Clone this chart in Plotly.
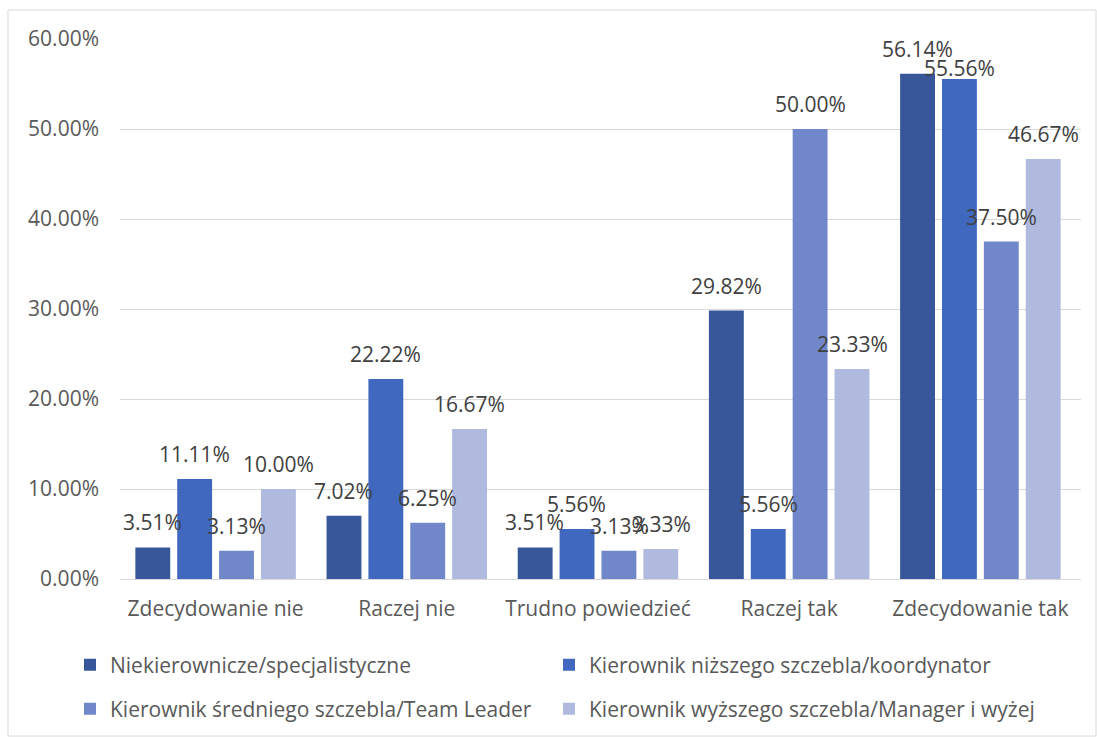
import plotly.graph_objects as go

categories = ["Zdecydowanie nie", "Raczej nie", "Trudno powiedzieć", "Raczej tak", "Zdecydowanie tak"]
series_names = [
    "Niekierownicze/specjalistyczne",
    "Kierownik niższego szczebla/koordynator",
    "Kierownik średniego szczebla/Team Leader",
    "Kierownik wyższego szczebla/Manager i wyżej",
]
s1 = [3.51, 7.02, 3.51, 29.82, 56.14]
s2 = [11.11, 22.22, 5.56, 5.56, 55.56]
s3 = [3.13, 6.25, 3.13, 50.00, 37.50]
s4 = [10.00, 16.67, 3.33, 23.33, 46.67]
colors = ["#37579A", "#4068BF", "#7088CA", "#AFBADE"]
# label that Excel nudged down to avoid colliding with its neighbour
lowered = {(1, 4)}

W, H = 1097, 737
L, R, T, B = 120, 16, 39, 158
PW, PH = W - L - R, H - T - B
FONT = "Open Sans"
BARGAP, GROUPGAP = 0.124, 0.167
NS = 4
slot_px = PW / len(categories) * (1 - BARGAP) / NS

def px_x(p):
    return (p - L) / PW

def px_y(p):
    return (H - B - p) / PH

# legend cell (left pixel, row centre pixel) per series: 2 x 2 grid
legend_ids = ["legend", "legend2", "legend3", "legend4"]
legend_pos = [(70, 665), (549, 665), (70, 709), (549, 709)]

fig = go.Figure()
all_series = [s1, s2, s3, s4]
for i, (name, vals) in enumerate(zip(series_names, all_series)):
    fig.add_trace(go.Bar(
        x=categories, y=[v / 100 for v in vals], name=name,
        marker=dict(color=colors[i], line=dict(width=0)),
        legend=legend_ids[i],
    ))
    for j, v in enumerate(vals):
        fig.add_annotation(
            x=categories[j], y=v / 100, xref="x", yref="y",
            text=f"{v:.2f}%", showarrow=False,
            xshift=(i - (NS - 1) / 2) * slot_px,
            yshift=11 if (i, j) in lowered else 25,
            xanchor="center", yanchor="middle",
            font=dict(size=21, color="#404040", family=FONT),
        )

fig.add_shape(type="rect", xref="paper", yref="paper",
              x0=px_x(8), x1=px_x(1096), y0=px_y(736), y1=px_y(10),
              line=dict(color="#D9D9D9", width=1), layer="below")

legends = {}
for lid, (lx, ly) in zip(legend_ids, legend_pos):
    legends[lid] = dict(orientation="v", x=px_x(lx), xanchor="left",
                        y=px_y(ly), yanchor="middle",
                        font=dict(size=21, color="#595959", family=FONT),
                        bgcolor="rgba(0,0,0,0)")

fig.update_layout(
    width=W, height=H,
    margin=dict(l=L, r=R, t=T, b=B, autoexpand=False),
    paper_bgcolor="white", plot_bgcolor="white",
    barmode="group", bargap=BARGAP, bargroupgap=GROUPGAP,
    font=dict(family=FONT, size=20, color="#595959"),
    showlegend=True,
    xaxis=dict(showgrid=False, showline=True, linecolor="#D9D9D9", linewidth=1,
               ticks="", tickfont=dict(size=21, color="#595959"), ticklabelstandoff=11),
    yaxis=dict(range=[0, 0.6], dtick=0.1, tickformat=".2%", showgrid=True,
               gridcolor="#D9D9D9", gridwidth=1, zeroline=False, showline=False,
               ticks="", tickfont=dict(size=21, color="#595959"), ticklabelstandoff=20),
    **legends,
)

fig.write_html("out.html")
